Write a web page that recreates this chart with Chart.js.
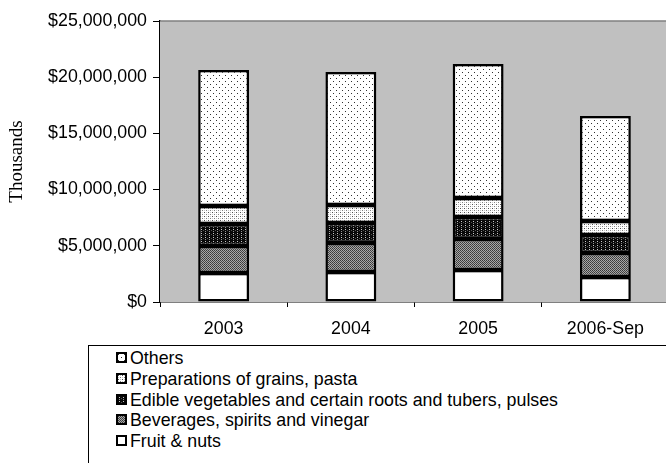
<!DOCTYPE html>
<html>
<head>
<meta charset="utf-8">
<script src="https://cdn.jsdelivr.net/npm/chart.js@4.4.1/dist/chart.umd.min.js"></script>
<style>
    html, body { margin: 0; padding: 0; background: #fff; overflow: hidden; width: 666px; height: 463px; }
    #wrap { position: absolute; left: 0; top: 0; width: 672px; height: 340px; }
    #legend {
        position: absolute; left: 88px; top: 345px; width: 600px; height: 130px;
        border: 1px solid #000; box-sizing: border-box;
        font-family: "Liberation Sans", Arial, sans-serif; font-size: 17.8px; color: #000;
        padding-top: 2px;
    }
    #legend div { height: 20.8px; line-height: 20.8px; padding-left: 27px; white-space: nowrap; }
    #legend span.sw {
        display: inline-block; width: 7px; height: 7px; border: 2px solid #000;
        margin-right: 3px; vertical-align: 1px;
    }
</style>
</head>
<body>
<div id="wrap"><canvas id="barChart"></canvas></div>
<div id="legend"></div>
<script>
const years = ['2003', '2004', '2005', '2006-Sep'];
const fruitNuts = [2580000, 2670000, 2850000, 2220000];
const beverages = [2400000, 2580000, 2750000, 2140000];
const edibleVeg = [1960000, 1780000, 1960000, 1600000];
const grainsPasta = [1600000, 1600000, 1690000, 1240000];
const others = [12100000, 11830000, 11920000, 9350000];
const seriesNames = ['Fruit & nuts', 'Beverages, spirits and vinegar',
    'Edible vegetables and certain roots and tubers, pulses',
    'Preparations of grains, pasta', 'Others'];

// little tiles for the hatch fills
function tile(size, bg, dots) {
    const c = document.createElement('canvas');
    c.width = size; c.height = size;
    const g = c.getContext('2d');
    g.fillStyle = bg;
    g.fillRect(0, 0, size, size);
    dots.forEach(d => { g.fillStyle = d[2]; g.fillRect(d[0], d[1], 1, 1); });
    return c;
}
const tiles = [
    tile(4, '#ffffff', []),
    tile(2, '#a8a8a8', [[0, 0, '#383838'], [1, 1, '#484848']]),
    tile(4, '#080808', [[1, 1, '#c8c8c8'], [1, 3, '#909090'], [3, 2, '#505050']]),
    tile(4, '#ffffff', [[0, 0, '#505050'], [2, 2, '#808080'], [2, 0, '#c8c8c8'], [0, 2, '#c8c8c8']]),
    tile(6, '#ffffff', [[0, 0, '#303030'], [3, 3, '#303030']])
];
const ctx = document.getElementById('barChart').getContext('2d');
const fills = tiles.map(t => ctx.createPattern(t, 'repeat'));
const values = [fruitNuts, beverages, edibleVeg, grainsPasta, others];

const plotBg = {
    id: 'plotBg',
    beforeDatasetsDraw(chart) {
        const a = chart.chartArea;
        const c = chart.ctx;
        c.save();
        c.fillStyle = '#c0c0c0';
        c.fillRect(a.left, a.top, a.right - a.left, a.bottom - a.top);
        c.strokeStyle = '#808080';
        c.lineWidth = 1.5;
        c.beginPath();
        c.moveTo(a.left, a.top);
        c.lineTo(a.right, a.top);
        c.lineTo(a.right, a.bottom);
        c.stroke();
        c.restore();
    }
};

new Chart(ctx, {
    type: 'bar',
    data: {
        labels: years,
        datasets: values.map((v, i) => ({
            label: seriesNames[i],
            data: v,
            backgroundColor: fills[i],
            borderColor: '#000',
            borderWidth: 2.5,
            borderSkipped: false,
            barPercentage: 0.4,
            categoryPercentage: 1
        }))
    },
    options: {
        responsive: true,
        maintainAspectRatio: false,
        animation: false,
        layout: { padding: { top: 21, right: 3, bottom: 0, left: 0 } },
        plugins: { legend: { display: false }, tooltip: { enabled: false } },
        scales: {
            x: {
                stacked: true,
                afterFit(scale) { scale.height = 38; },
                grid: { drawOnChartArea: false, drawTicks: true, tickLength: 5, color: '#000', offset: true },
                border: { display: true, color: '#000', width: 1.5 },
                ticks: { color: '#000', padding: 11, font: { family: 'Liberation Sans', size: 17.8 } }
            },
            y: {
                stacked: true,
                min: 0,
                max: 25000000,
                afterFit(scale) { scale.width = 160; },
                grid: { drawOnChartArea: false, drawTicks: true, tickLength: 7, color: '#000' },
                border: { display: true, color: '#000', width: 1.5 },
                ticks: {
                    stepSize: 5000000,
                    color: '#000',
                    padding: 6,
                    font: { family: 'Liberation Sans', size: 17.8 },
                    callback: v => '$' + v.toLocaleString('en-US')
                },
                title: {
                    display: true,
                    text: 'Thousands',
                    color: '#000',
                    padding: { top: 6, bottom: 0 },
                    font: { family: 'Liberation Serif', size: 19, weight: 'normal' }
                }
            }
        }
    },
    plugins: [plotBg]
});

// legend, Others first like the original
const legend = document.getElementById('legend');
for (let i = seriesNames.length - 1; i >= 0; i--) {
    const row = document.createElement('div');
    const sw = document.createElement('span');
    sw.className = 'sw';
    sw.style.backgroundImage = 'url(' + tiles[i].toDataURL() + ')';
    row.appendChild(sw);
    row.appendChild(document.createTextNode(seriesNames[i]));
    legend.appendChild(row);
}
</script>
</body>
</html>
